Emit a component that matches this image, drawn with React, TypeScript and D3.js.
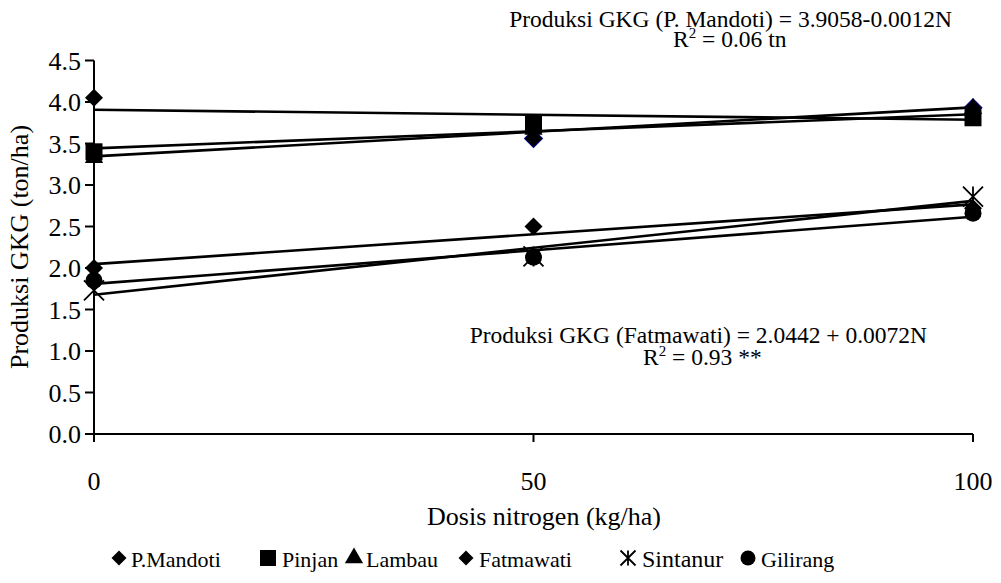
import React from "react";
import * as d3 from "d3";

const doses = [0, 50, 100];
const seriesNames = ["P.Mandoti", "Pinjan", "Lambau", "Fatmawati", "Sintanur", "Gilirang"];
const pMandoti = [4.05, 3.56, 3.93];
const pinjan = [3.4, 3.73, 3.81];
const lambau = [3.33, 3.67, 3.92];
const fatmawati = [2.0, 2.5, 2.72];
const sintanur = [1.73, 2.14, 2.86];
const gilirang = [1.85, 2.13, 2.66];
const yTicks = [0, 0.5, 1.0, 1.5, 2.0, 2.5, 3.0, 3.5, 4.0, 4.5];
const xTicks = [0, 50, 100];
const markerTypes = ["diamond", "square", "triangle", "diamond", "star", "circle"];

const FONT = "Liberation Serif, DejaVu Serif, serif";

function regress(xs: number[], ys: number[]) {
  const mx = d3.mean(xs)!;
  const my = d3.mean(ys)!;
  const sxy = d3.sum(xs, (x, i) => (x - mx) * (ys[i] - my));
  const sxx = d3.sum(xs, (x) => (x - mx) * (x - mx));
  const b = sxy / sxx;
  return { a: my - b * mx, b };
}

function Marker({ type, x, y, s, stroke }: { type: string; x: number; y: number; s: number; stroke?: string }) {
  if (type === "diamond") {
    const p = d3.symbol(d3.symbolSquare, (s * s) / 2)();
    return <path d={p!} transform={`translate(${x},${y}) rotate(45)`} fill="#000" stroke={stroke || "none"} strokeWidth={1} />;
  }
  if (type === "square") {
    const p = d3.symbol(d3.symbolSquare, s * s)();
    return <path d={p!} transform={`translate(${x},${y})`} fill="#000" />;
  }
  if (type === "triangle") {
    const p = d3.symbol(d3.symbolTriangle, s * s * 0.5)();
    return <path d={p!} transform={`translate(${x},${y})`} fill="#000" />;
  }
  if (type === "circle") {
    const p = d3.symbol(d3.symbolCircle, (Math.PI * s * s) / 4)();
    return <path d={p!} transform={`translate(${x},${y})`} fill="#000" />;
  }
  const h = s / 2;
  return (
    <path
      d={`M${-h},${-h}L${h},${h}M${-h},${h}L${h},${-h}M0,${-h}L0,${h}`}
      transform={`translate(${x},${y})`}
      stroke="#000"
      strokeWidth={1.8}
      fill="none"
    />
  );
}

const T = (props: any) => <text fill="#000" style={{ fontFamily: FONT }} {...props} />;

export default function App() {
  const W = 1001;
  const H = 583;
  const x = d3.scaleLinear().domain([0, 100]).range([94, 973]);
  const y = d3.scaleLinear().domain([0, 4.5]).range([434, 60.5]);
  const allSeries = [pMandoti, pinjan, lambau, fatmawati, sintanur, gilirang];
  const fits = allSeries.map((s) => regress(doses, s));

  const legendSym = [119, 268, 354, 466, 628, 748];
  const legendText = [131, 282, 366, 479, 642, 761];
  const legendSize = [15, 16, 17, 15, 15, 15];
  const legendFont = [22, 22, 22, 22, 24, 22];

  return (
    <svg width={W} height={H} style={{ position: "absolute", left: 0, top: 0, background: "#fff" }}>
      <rect width={W} height={H} fill="#fff" />
      {allSeries.map((s, si) =>
        s.map((v, i) => (
          <Marker
            key={`m${si}-${i}`}
            type={markerTypes[si]}
            x={x(doses[i])}
            y={y(v)}
            s={markerTypes[si] === "star" ? 20 : markerTypes[si] === "diamond" ? 18 : 17}
            stroke={si === 0 && i > 0 ? "#000080" : undefined}
          />
        ))
      )}
      {fits.map((f, i) => (
        <line
          key={`t${i}`}
          x1={x(0)}
          y1={y(f.a)}
          x2={x(100)}
          y2={y(f.a + f.b * 100)}
          stroke="#000"
          strokeWidth={2.6}
        />
      ))}
      <line x1={94} y1={y(4.5)} x2={94} y2={442} stroke="#000" strokeWidth={2} />
      <line x1={94} y1={434} x2={x(100)} y2={434} stroke="#000" strokeWidth={2} />
      {yTicks.map((t) => (
        <g key={`y${t}`}>
          <line x1={85} x2={94} y1={y(t)} y2={y(t)} stroke="#000" strokeWidth={2} />
          <T x={81} y={y(t)} dy="0.35em" textAnchor="end" fontSize={26}>
            {t.toFixed(1)}
          </T>
        </g>
      ))}
      {xTicks.map((t) => (
        <g key={`x${t}`}>
          <line x1={x(t)} x2={x(t)} y1={434} y2={442} stroke="#000" strokeWidth={2} />
          <T x={x(t)} y={490} textAnchor="middle" fontSize={26}>
            {t}
          </T>
        </g>
      ))}
      <T x={544} y={525} textAnchor="middle" fontSize={26}>
        Dosis nitrogen (kg/ha)
      </T>
      <T transform={`translate(28,247) rotate(-90)`} textAnchor="middle" fontSize={26}>
        Produksi GKG (ton/ha)
      </T>
      <T x={952} y={27} textAnchor="end" fontSize={23.5}>
        Produksi GKG (P. Mandoti) = 3.9058-0.0012N
      </T>
      <T x={673} y={47} fontSize={23.5}>
        R<tspan dy={-9} fontSize={15}>2</tspan>
        <tspan dy={9}> = 0.06 tn</tspan>
      </T>
      <T x={927} y={343} textAnchor="end" fontSize={23.5}>
        Produksi GKG (Fatmawati) = 2.0442 + 0.0072N
      </T>
      <T x={643} y={365} fontSize={23.5}>
        R<tspan dy={-9} fontSize={15}>2</tspan>
        <tspan dy={9}> = 0.93 **</tspan>
      </T>
      {seriesNames.map((n, i) => (
        <g key={`l${i}`}>
          <Marker type={markerTypes[i]} x={legendSym[i]} y={558} s={legendSize[i]} />
          <T x={legendText[i]} y={567} fontSize={legendFont[i]}>
            {n}
          </T>
        </g>
      ))}
    </svg>
  );
}
